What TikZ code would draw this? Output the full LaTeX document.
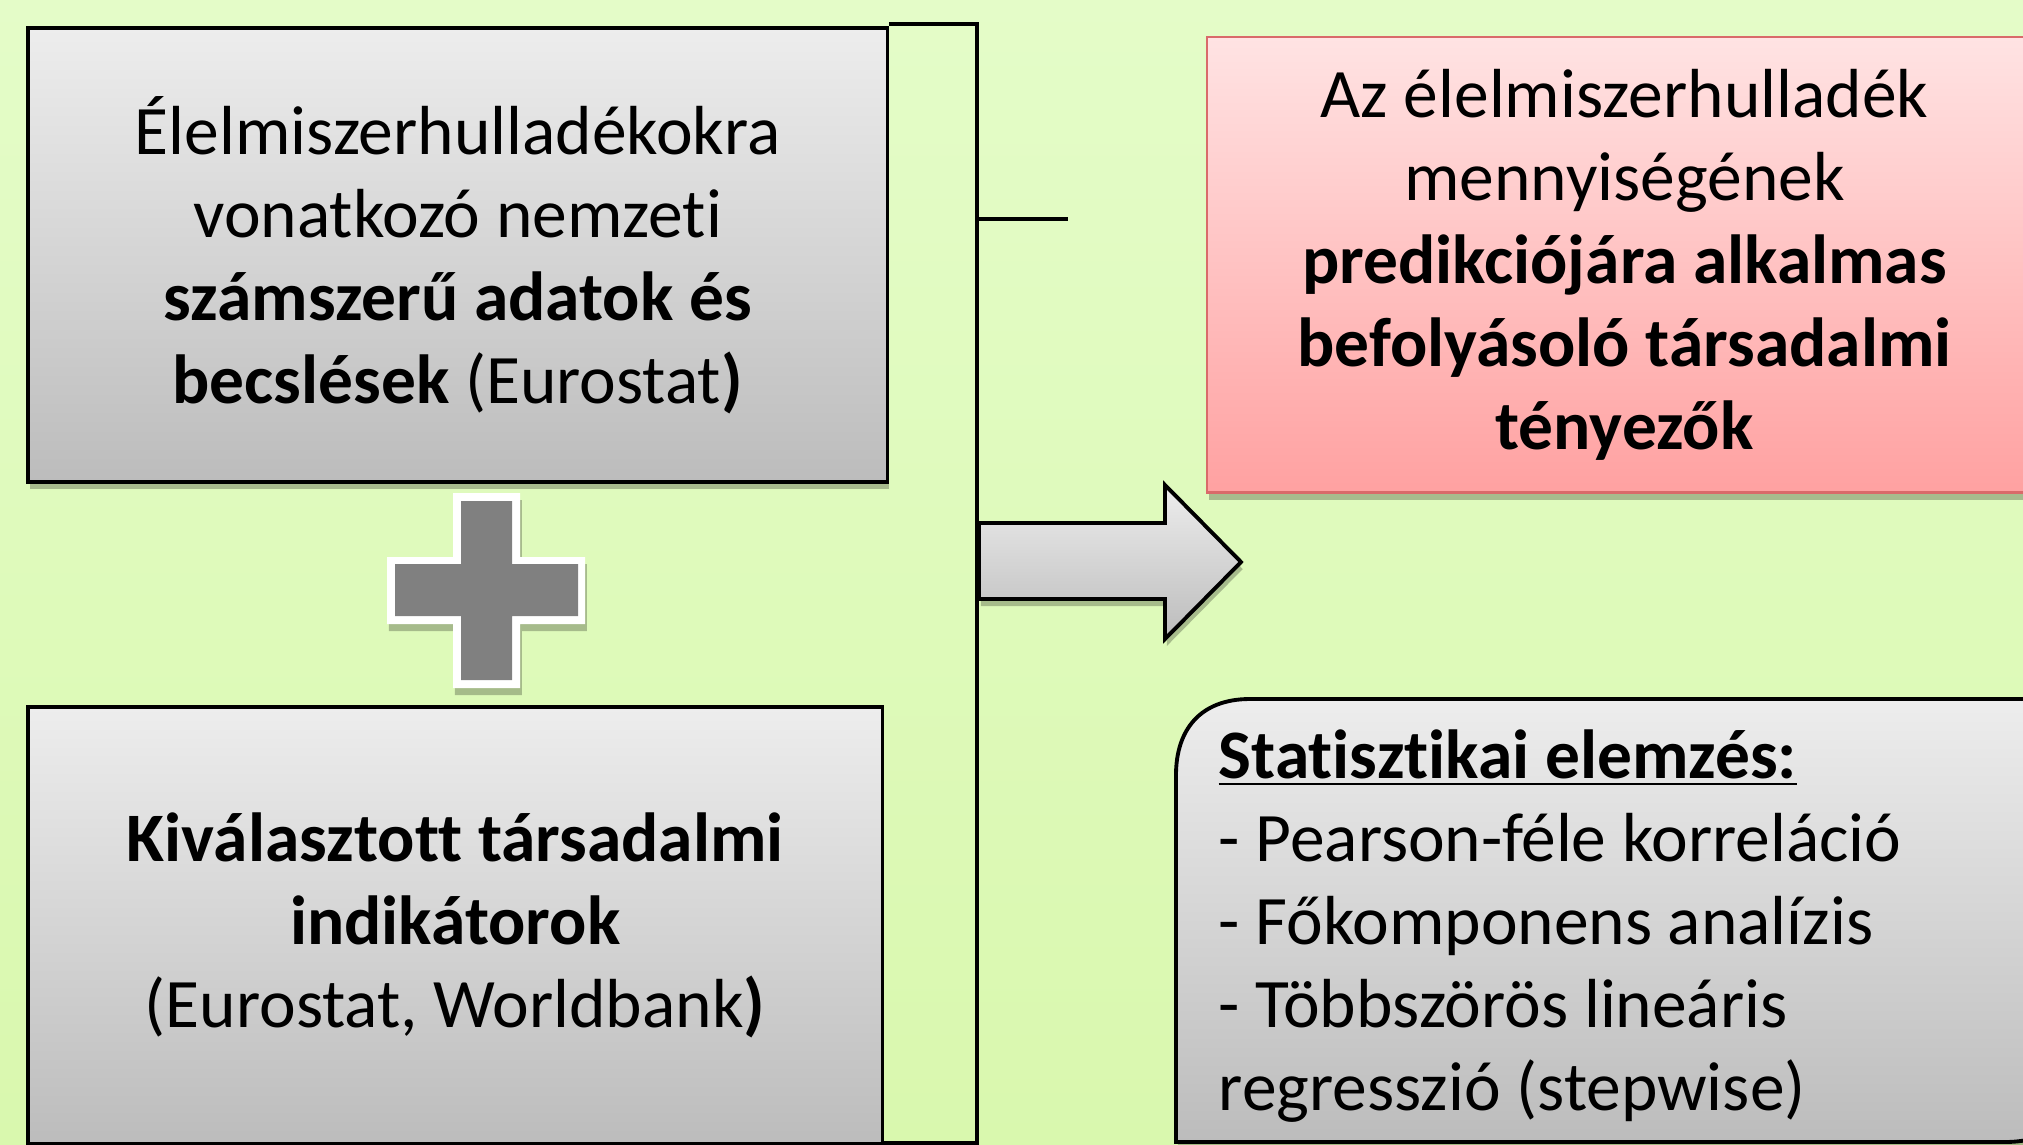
\documentclass[tikz,border=0pt]{standalone}
\usepackage{fontspec}
\setmainfont[Ligatures={NoCommon}, RawFeature={-liga;-clig;-calt}]{Carlito}
\usetikzlibrary{shadows}
\definecolor{bgtop}{HTML}{E4FCC8}
\definecolor{bgbot}{HTML}{D9F8AE}
\definecolor{gtop}{HTML}{EDEDED}
\definecolor{gbot}{HTML}{BCBCBC}
\definecolor{rtop}{HTML}{FFE3E3}
\definecolor{rbot}{HTML}{FFA1A1}
\definecolor{rline}{HTML}{D96A6A}
\definecolor{plusgrey}{HTML}{808080}
\begin{document}
\begin{tikzpicture}[x=0.01cm,y=-0.01cm,
  txt/.style={font=\fontsize{19.75}{23.6}\selectfont},
  shadowed/.style={drop shadow={shadow xshift=0.5pt, shadow yshift=-2pt, opacity=0.25, fill=black}},
  greybox/.style={txt, draw=black, line width=1.1pt, top color=gtop, bottom color=gbot, shadowed, inner sep=0pt, align=center, anchor=north west},
  redbox/.style={txt, draw=rline, line width=0.7pt, top color=rtop, bottom color=rbot, shadowed, inner sep=0pt, align=center, anchor=north west},
  bracket/.style={draw=black, line width=1.1pt},
]
\useasboundingbox (0,0) rectangle (2023,1145);
\clip (0,0) rectangle (2023,1145);
\shade[top color=bgtop, bottom color=bgbot] (0,0) rectangle (2023,1145);

% left boxes
\node[greybox, minimum width=8.59cm, minimum height=4.54cm] (tl) at (26,26)
  {Élelmiszerhulladékokra\\ vonatkozó nemzeti\\ \textbf{számszerű adatok és}\\ \textbf{becslések} (Eurostat\textbf{)}};
\node[greybox, minimum width=8.54cm, minimum height=4.37cm] (bl) at (26,705)
  {\textbf{Kiválasztott társadalmi}\\ \textbf{indikátorok}\\ (Eurostat, Worldbank\textbf{)}};

% plus sign
\path[fill=white, shadowed] (453,493) -- (520,493) -- (520,557) -- (585,557) -- (585,624) -- (520,624) -- (520,688) -- (453,688) -- (453,624) -- (387,624) -- (387,557) -- (453,557) -- cycle;
\fill[plusgrey] (461,501) -- (512,501) -- (512,564) -- (578,564) -- (578,616) -- (512,616) -- (512,680) -- (461,680) -- (461,616) -- (395,616) -- (395,564) -- (461,564) -- cycle;

% bracket
\coordinate (brtop) at (977,24);
\coordinate (brbot) at (977,1143);
\coordinate (brmid) at (977,219);
\coordinate (stub) at (1068,219);
\draw[bracket] (tl.north east |- brtop) -- (brtop) -- (brbot) -- (bl.south east |- brbot);
\draw[bracket] (brmid) -- (stub);

% arrow
\coordinate (arrtip) at (1241,562);
\path[draw=black, line width=1.1pt, top color=gtop, bottom color=gbot, shadowed]
  (979,523) -- (1165,523) -- (1165,485) -- (arrtip) -- (1165,639) -- (1165,599) -- (979,599) -- cycle;

% right boxes
\node[redbox, minimum width=8.34cm, minimum height=4.55cm] (res) at (1206,36)
  {Az élelmiszerhulladék\\ mennyiségének\\ \textbf{predikciójára alkalmas}\\ \textbf{befolyásoló társadalmi}\\ \textbf{tényezők}};

\path[draw=black, line width=1.1pt, top color=gtop, bottom color=gbot, shadowed]
  (1176,1142) -- (1176,775) .. controls (1176,730) and (1200,699) .. (1250,699)
  -- (2080,699) -- (2080,1070) .. controls (2080,1115) and (2055,1142) .. (2005,1142) -- cycle;
\node[txt, align=left, anchor=west, inner sep=0pt] (stat) at (1218,926)
  {\underline{\textbf{Statisztikai elemzés:}}\\ - Pearson-féle korreláció\\ - Főkomponens analízis\\ - Többszörös lineáris\\ regresszió (stepwise)};
\end{tikzpicture}
\end{document}
